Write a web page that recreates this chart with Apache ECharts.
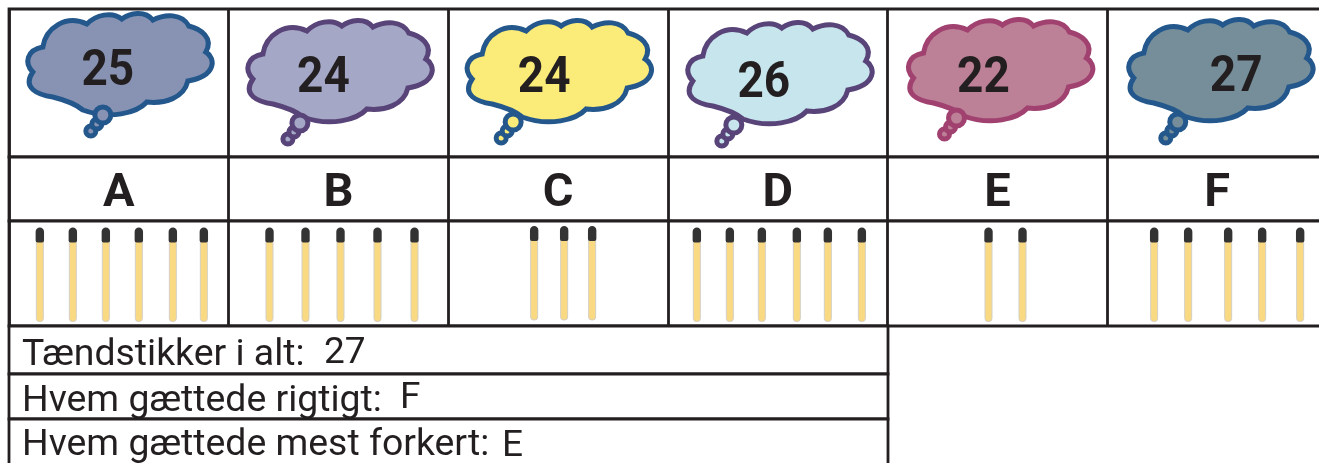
<!DOCTYPE html>
<html>
<head>
<meta charset="utf-8">
<style>html,body{margin:0;padding:0;background:#fff}#chart{width:1319px;height:463px}</style>
<script src="https://cdn.jsdelivr.net/npm/echarts@6/dist/echarts.min.js"></script>
</head>
<body>
<div id="chart"></div>
<script>
// data
var people=['A','B','C','D','E','F'];
var guesses=[25,24,24,26,22,27];
var matches=[6,5,3,6,2,5];
var rowLabels=['Tændstikker i alt:','Hvem gættede rigtigt:','Hvem gættede mest forkert:'];
var rowAnswers=['27','F','E'];

// styles + hand placed offsets, the original drawing is not regular
var ink='#231f20';
var cloudFill=['#8893b3','#a4a7c6','#fbec7a','#c7e5ec','#bc8097','#758e99'];
var cloudLine=['#24588c','#584478','#24588c','#584478','#a04170','#24588c'];
var cloudShift=[[0,0],[0.4,7],[0,7],[1,9],[2,6],[2.6,6]];
var tailPos=[[103,115],[80,116],[74,115],[74,116],[76,112],[77,116]];
var guessPos=[[-11,-10],[-15,-3],[-14,-3],[-14,2],[-14,-3],[19,-4]];
var stickPos=[
	[-79,-46,-13,20,54,85],
	[-69,-33,2,39,76],
	[-24,6,34],
	[-81,-48,-16,19,50,84],
	[-9,25],
	[-63,-29,11,45,83]
];
var answerX=[324,400,502];
var rowTextY=[337,383,427];
var answerY=[335,380,428];
var cloudPath='M43 47C46 28 66 14 87 24C96 15 112 11 122 19C130 13 145 10 153 20C165 14 182 13 189 26'+
	'C201 29 214 38 206 52C216 58 217 76 188 81C184 98 165 104 147 102C137 113 110 120 83 110'+
	'C75 103 65 100 53 97C38 95 22 88 33 72C24 63 27 50 43 47Z';

var rowTop=[326,374,419];
var rowHeight=[48,45,52];

function columnAxis(idx){
	return {
		type:'category',gridIndex:idx,data:people,
		axisLine:{show:false},axisTick:{show:false},axisLabel:{show:false},
		splitLine:{show:true,lineStyle:{color:ink,width:2.8}}
	};
}
function rowAxis(idx,name){
	return {
		type:'category',gridIndex:idx,data:[name],
		axisLine:{show:false},axisTick:{show:false},axisLabel:{show:false},splitLine:{show:false}
	};
}
function cell(y,height,width){
	return {show:true,left:9,top:y,width:width,height:height,outerBoundsMode:'none',
		borderColor:ink,borderWidth:2.8,backgroundColor:'#fff'};
}

function renderCloud(params,api){
	var i=api.value(0);
	var c=api.coord([i,0]);
	var s=cloudShift[i];
	var style={fill:cloudFill[i],stroke:cloudLine[i],lineWidth:5};
	var t=tailPos[i];
	return {
		type:'group',
		x:c[0]-119+s[0],
		y:c[1]-83+s[1],
		children:[
			{type:'path',shape:{pathData:cloudPath},style:style},
			{type:'circle',shape:{cx:t[0]-12,cy:t[1]+16,r:5},style:style},
			{type:'circle',shape:{cx:t[0]-6,cy:t[1]+9,r:5},style:style},
			{type:'circle',shape:{cx:t[0],cy:t[1],r:8},style:style},
			{type:'text',x:119-s[0]+guessPos[i][0],y:83-s[1]+guessPos[i][1],scaleY:1.07,style:{
				text:String(api.value(2)),fill:ink,font:'bold 46px Roboto',align:'center',verticalAlign:'middle'
			}}
		]
	};
}

function renderLetter(params,api){
	var i=api.value(0);
	var c=api.coord([i,0]);
	return {type:'text',x:c[0],y:c[1]+5,style:{
		text:people[i],fill:ink,font:'bold 47px Roboto',align:'center',verticalAlign:'middle'
	}};
}

function renderSticks(params,api){
	var i=api.value(0);
	var c=api.coord([i,0]);
	var kids=[];
	var dy=i==2?-1.5:0;
	for(var j=0;j<api.value(2);j++){
		var x=c[0]+stickPos[i][j];
		kids.push({type:'rect',shape:{x:x-3.5,y:c[1]-32+dy,width:7,height:80,r:[0,0,3,3]},
			style:{fill:'#fad983',stroke:'#d3cfc4',lineWidth:1}});
		kids.push({type:'rect',shape:{x:x-4.2,y:c[1]-46+dy,width:8.4,height:15,r:[4.2,4.2,2,2]},
			style:{fill:'#333333'}});
	}
	return {type:'group',children:kids};
}

var grids=[cell(9,148,1318),cell(157,64,1318),cell(221,105,1318)];
var xAxes=[columnAxis(0),columnAxis(1),columnAxis(2)];
var yAxes=[rowAxis(0,'gæt'),rowAxis(1,'navn'),rowAxis(2,'tændstikker')];
var graphics=[];
for(var r=0;r<rowLabels.length;r++){
	var idx=grids.length;
	grids.push(cell(rowTop[r],rowHeight[r],879));
	xAxes.push({type:'value',gridIndex:idx,show:false});
	yAxes.push(rowAxis(idx,rowLabels[r]));
	graphics.push({type:'text',left:22,top:rowTextY[r],z:10,style:{text:rowLabels[r],fill:ink,font:'37.4px Roboto'}});
	graphics.push({type:'text',left:answerX[r],top:answerY[r],z:10,style:{text:rowAnswers[r],fill:ink,font:'37px Roboto'}});
}

var chart=echarts.init(document.getElementById('chart'),null,{renderer:'canvas'});
chart.setOption({
	animation:false,
	backgroundColor:'#fff',
	grid:grids,
	xAxis:xAxes,
	yAxis:yAxes,
	graphic:graphics,
	series:[
		{type:'custom',xAxisIndex:0,yAxisIndex:0,renderItem:renderCloud,clip:false,
			data:guesses.map(function(g,i){return [i,0,g];})},
		{type:'custom',xAxisIndex:1,yAxisIndex:1,renderItem:renderLetter,clip:false,
			data:people.map(function(p,i){return [i,0,p];})},
		{type:'custom',xAxisIndex:2,yAxisIndex:2,renderItem:renderSticks,clip:false,
			data:matches.map(function(m,i){return [i,0,m];})}
	]
});
</script>
</body>
</html>
